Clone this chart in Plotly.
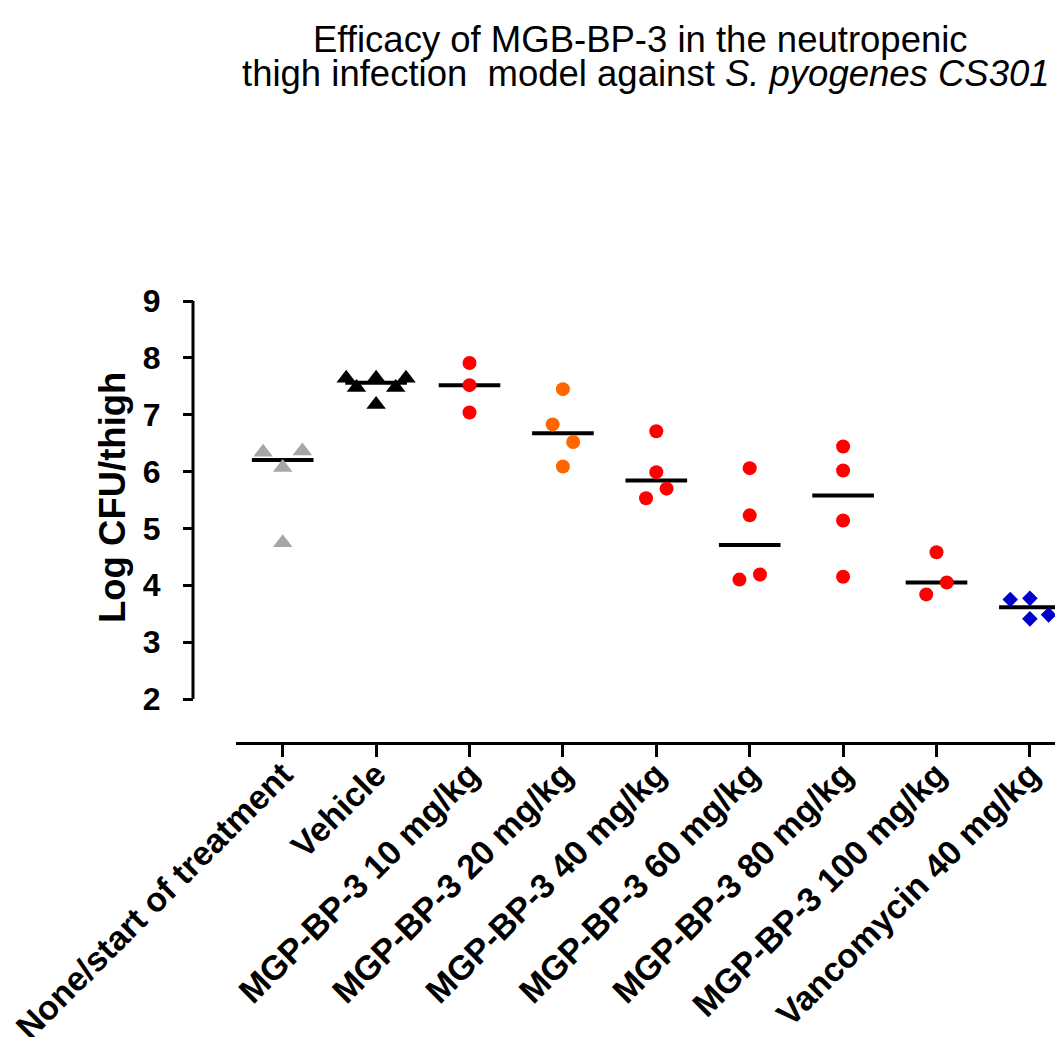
import numpy as np
import plotly.graph_objects as go

# ---------------- data ----------------
categories = [
    "None/start of treatment", "Vehicle", "MGP-BP-3 10 mg/kg", "MGP-BP-3 20 mg/kg",
    "MGP-BP-3 40 mg/kg", "MGP-BP-3 60 mg/kg", "MGP-BP-3 80 mg/kg",
    "MGP-BP-3 100 mg/kg", "Vancomycin 40 mg/kg",
]
none_start = [6.34, 6.36, 6.07, 4.75]
vehicle = [7.64, 7.48, 7.64, 7.18, 7.48, 7.64]
mgb_10 = [7.91, 7.52, 7.04]
mgb_20 = [7.45, 6.83, 6.52, 6.09]
mgb_40 = [6.71, 5.99, 5.70, 5.53]
mgb_60 = [6.06, 5.23, 4.19, 4.10]
mgb_80 = [6.44, 6.02, 5.14, 4.15]
mgb_100 = [4.58, 4.05, 3.84]
vanco_40 = [3.75, 3.77, 3.41, 3.48]

# scatter spread within a column (category units)
jitter = [
    [-0.21, 0.21, 0, 0],
    [-0.32, -0.21, 0, 0, 0.21, 0.32],
    [0, 0, 0],
    [0, -0.11, 0.11, 0],
    [0, 0, 0.11, -0.11],
    [0, 0, 0.11, -0.11],
    [0, 0, 0, 0],
    [0, 0.11, -0.11],
    [-0.21, 0, 0, 0.2],
]
y_ticks = [2, 3, 4, 5, 6, 7, 8, 9]

groups = [none_start, vehicle, mgb_10, mgb_20, mgb_40, mgb_60, mgb_80, mgb_100, vanco_40]
colors = ["#A6A6A6", "#000000", "#FF0000", "#FF6600", "#FF0000", "#FF0000",
          "#FF0000", "#FF0000", "#0000C8"]
symbols = ["triangle-up", "triangle-up", "circle", "circle", "circle", "circle",
           "circle", "circle", "diamond"]
sizes = [17, 17, 14, 14, 14, 14, 14, 14, 12]

W, H = 1055, 1037
FONT = "Liberation Sans, Arial, sans-serif"

fig = go.Figure()

# median lines
mx, my = [], []
for i, g in enumerate(groups):
    m = float(np.median(g))
    mx += [i - 0.33, i + 0.33, None]
    my += [m, m, None]
fig.add_trace(go.Scatter(x=mx, y=my, mode="lines",
                         line=dict(color="black", width=4), hoverinfo="skip"))

for i, g in enumerate(groups):
    fig.add_trace(go.Scatter(
        x=[i + j for j in jitter[i]], y=g, mode="markers",
        marker=dict(symbol=symbols[i], size=sizes[i], color=colors[i],
                    line=dict(width=0)),
        name=categories[i]))

plot_left, plot_top, plot_bottom = 236, 301, 742
px_per_cat = 93.4
x_end = -0.5 + (W - plot_left) / px_per_cat
px_per_unit = (699 - 301) / 7.0
y_min = 9 - (plot_bottom - plot_top) / px_per_unit

fig.update_layout(
    width=W, height=H,
    margin=dict(l=0, r=0, t=plot_top, b=H - plot_bottom, pad=0, autoexpand=False),
    paper_bgcolor="white", plot_bgcolor="white",
    showlegend=False,
    font=dict(family=FONT, color="black"),
    xaxis=dict(
        domain=[plot_left / W, 1], range=[-0.5, x_end], automargin=False,
        tickvals=list(range(len(categories))), ticktext=categories,
        tickangle=-45, ticks="outside", ticklen=12, tickwidth=3, tickcolor="black",
        ticklabelstandoff=-16,
        showline=True, linewidth=3, linecolor="black",
        showgrid=False, zeroline=False,
        tickfont=dict(family=FONT, size=34, weight="bold", color="black"),
    ),
    yaxis=dict(
        anchor="free", position=193 / W, range=[y_min, 9], automargin=False,
        tickvals=y_ticks, ticks="outside", ticklen=10, tickwidth=3, tickcolor="black",
        ticklabelstandoff=16,
        showline=False, showgrid=False, zeroline=False,
        tickfont=dict(family=FONT, size=32, weight="bold", color="black"),
    ),
    shapes=[dict(type="line", xref="paper", yref="y", x0=193 / W, x1=193 / W,
                 y0=2, y1=9, line=dict(color="black", width=3))],
)

def py2paper(py):
    return (plot_bottom - py) / (plot_bottom - plot_top)

fig.add_annotation(text="Efficacy of MGB-BP-3 in the neutropenic",
                   xref="paper", yref="paper", x=641 / W, y=py2paper(39),
                   xanchor="center", yanchor="middle", showarrow=False,
                   font=dict(family=FONT, size=36.5, color="black"))
fig.add_annotation(text="thigh infection  model against <i>S. pyogenes CS301</i>",
                   xref="paper", yref="paper", x=646 / W, y=py2paper(73),
                   xanchor="center", yanchor="middle", showarrow=False,
                   font=dict(family=FONT, size=36.5, color="black"))
fig.add_annotation(text="Log CFU/thigh", textangle=-90,
                   xref="paper", yref="paper", x=112 / W, y=py2paper(498),
                   xanchor="center", yanchor="middle", showarrow=False,
                   font=dict(family=FONT, size=36.5, weight="bold", color="black"))

fig.write_html("out.html")
